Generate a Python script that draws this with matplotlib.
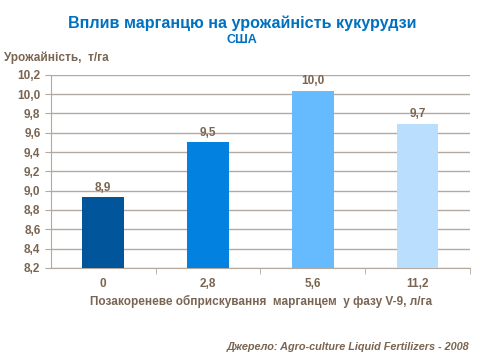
import numpy as np
import matplotlib.pyplot as plt

plt.rcParams['font.family'] = ['Liberation Sans', 'DejaVu Sans']

# data
doses = ['0', '2,8', '5,6', '11,2']
yields = [8.93, 9.50, 10.03, 9.69]
bar_colors = ['#00559B', '#0281E1', '#66BBFF', '#B9DEFE']
yticks = [8.2, 8.4, 8.6, 8.8, 9.0, 9.2, 9.4, 9.6, 9.8, 10.0, 10.2]

txt = '#7A6552'
grid = '#B3A99F'

fig = plt.figure(figsize=(4.8, 3.6), dpi=100)
ax = fig.add_axes([0.106, 0.256, 0.873, 0.536])

x = np.arange(len(doses))
ax.bar(x, [v - 8.2 for v in yields], bottom=8.2, width=0.4, color=bar_colors, zorder=3)

for xi, v in zip(x, yields):
    ax.text(xi, v + 0.04, f'{v:.1f}'.replace('.', ','), ha='center', va='bottom',
            fontsize=8.5, fontweight='bold', color=txt)

ax.set_xlim(-0.5, 3.5)
ax.set_ylim(8.2, 10.2)
ax.set_yticks(yticks)
ax.set_yticklabels([f'{t:.1f}'.replace('.', ',') for t in yticks])
ax.yaxis.grid(True, color=grid, linewidth=1, zorder=0)

# category labels centred, ticks on category boundaries
ax.set_xticks(x)
ax.set_xticklabels(doses)
ax.set_xticks([0.5, 1.5, 2.5, 3.5], minor=True)
ax.tick_params(axis='x', which='major', length=0, pad=7)
ax.tick_params(axis='x', which='minor', length=4, color=grid)
ax.tick_params(axis='y', length=4, color=grid)
for lbl in ax.get_xticklabels() + ax.get_yticklabels():
    lbl.set_fontsize(8.5)
    lbl.set_fontweight('bold')
    lbl.set_color(txt)

for s in ['top', 'right']:
    ax.spines[s].set_visible(False)
for s in ['left', 'bottom']:
    ax.spines[s].set_color(grid)

fig.text(0.505, 0.935, 'Вплив марганцю на урожайність кукурудзи', ha='center', va='center',
         fontsize=11.6, fontweight='bold', color='#0070C0')
fig.text(0.503, 0.89, 'США', ha='center', va='center',
         fontsize=9, fontweight='bold', color='#0070C0')
fig.text(0.008, 0.84, 'Урожайність,  т/га', ha='left', va='center',
         fontsize=8.5, fontweight='bold', color=txt)
fig.text(0.543, 0.163, 'Позакореневе обприскування  марганцем  у фазу V-9, л/га', ha='center',
         va='center', fontsize=8.5, fontweight='bold', color=txt)
fig.text(0.978, 0.035, 'Джерело: Agro-culture Liquid Fertilizers - 2008', ha='right',
         va='center', fontsize=7.8, fontweight='bold', style='italic', color=txt)

fig.savefig('out.png', dpi=100)
